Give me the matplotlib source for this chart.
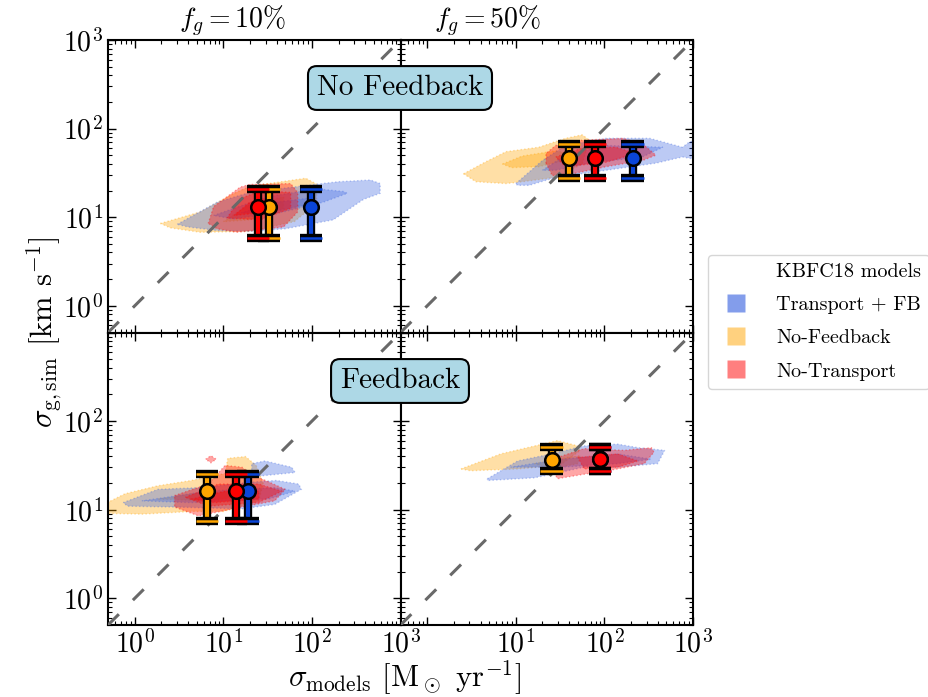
import numpy as np
import matplotlib.pyplot as plt
import matplotlib.patheffects as pe
from matplotlib.lines import Line2D
from matplotlib.ticker import NullFormatter

plt.rcParams['font.family'] = 'serif'
plt.rcParams['font.serif'] = ['cmr10']
plt.rcParams['mathtext.fontset'] = 'cm'
plt.rcParams['axes.formatter.use_mathtext'] = True

# model names / colours
models = ['Transport + FB', 'No-Feedback', 'No-Transport']
fill_cols = ['royalblue', 'orange', 'red']
dot_cols = ['#0a45d8', '#ffa500', '#ff0000']

# density contours (log10 sigma_models, log10 sigma_sim), outer -> inner
# f_g = 10%, no feedback
tl_blue = [
    [(0.48, 0.92), (0.93, 1.17), (1.30, 1.28), (1.87, 1.35), (2.29, 1.40), (2.66, 1.42), (2.77, 1.38),
     (2.77, 1.27), (2.58, 1.20), (2.24, 0.97), (1.70, 0.87), (1.30, 0.84), (0.93, 0.85), (0.60, 0.89)],
    [(0.89, 1.02), (1.49, 1.23), (2.06, 1.32), (2.36, 1.29), (2.40, 1.27), (2.13, 1.17), (1.68, 1.06), (1.11, 0.98)],
    [(1.20, 1.05), (1.60, 1.17), (2.00, 1.22), (1.90, 1.13), (1.50, 1.05)],
]
tl_orange = [
    [(0.29, 0.93), (0.74, 1.06), (1.12, 1.27), (1.30, 1.35), (1.93, 1.44), (2.06, 1.37), (2.05, 1.15),
     (1.80, 0.95), (1.30, 0.84), (0.74, 0.83), (0.40, 0.88)],
    [(1.00, 0.95), (1.27, 1.13), (1.68, 1.23), (1.68, 1.10), (1.30, 0.97)],
]
tl_red = [
    [(0.83, 0.93), (0.89, 1.12), (1.19, 1.34), (1.30, 1.37), (1.76, 1.38), (1.84, 1.28), (1.84, 1.06),
     (1.68, 0.89), (1.15, 0.83), (0.93, 0.87)],
    [(1.04, 0.99), (1.19, 1.21), (1.42, 1.30), (1.76, 1.28), (1.76, 1.10), (1.42, 0.97)],
    [(1.12, 1.02), (1.30, 1.17), (1.49, 1.21), (1.53, 1.06)],
]
# f_g = 50%, no feedback
tr_blue = [
    [(1.00, 1.38), (1.30, 1.64), (1.56, 1.81), (2.02, 1.89), (2.51, 1.89), (2.88, 1.79), (2.96, 1.85),
     (3.05, 1.87), (3.05, 1.65), (2.88, 1.68), (2.58, 1.61), (2.02, 1.53), (1.45, 1.45), (1.15, 1.36), (1.02, 1.36)],
    [(1.30, 1.53), (1.56, 1.70), (2.02, 1.81), (2.66, 1.79), (2.43, 1.68), (1.83, 1.61), (1.45, 1.53)],
]
tr_orange = [
    [(0.41, 1.49), (0.65, 1.62), (0.89, 1.74), (1.26, 1.79), (1.56, 1.89), (1.75, 1.93), (1.83, 1.87),
     (1.75, 1.60), (1.45, 1.45), (1.07, 1.40), (0.89, 1.38), (0.55, 1.40)],
    [(0.85, 1.60), (1.07, 1.69), (1.45, 1.75), (1.60, 1.72), (1.55, 1.64), (1.26, 1.57), (0.95, 1.56)],
]
tr_red = [
    [(1.34, 1.61), (1.34, 1.72), (1.45, 1.81), (1.75, 1.87), (2.21, 1.89), (2.43, 1.83), (2.58, 1.70),
     (2.43, 1.64), (2.02, 1.57), (1.64, 1.49), (1.41, 1.47)],
    [(1.45, 1.68), (1.75, 1.78), (2.13, 1.79), (2.36, 1.72), (2.02, 1.62), (1.56, 1.57)],
]
# f_g = 10%, feedback
bl_blue = [
    [(-0.13, 1.08), (0.26, 1.23), (0.75, 1.25), (1.30, 1.31), (1.60, 1.33), (1.85, 1.29), (1.88, 1.23),
     (1.58, 1.06), (1.21, 1.01), (0.45, 1.03), (-0.08, 1.04)],
    [(1.32, 1.45), (1.32, 1.52), (1.47, 1.55), (1.77, 1.48), (1.81, 1.42), (1.51, 1.39), (1.40, 1.38)],
    [(0.08, 1.10), (0.83, 1.21), (1.58, 1.25), (1.81, 1.21), (1.51, 1.12), (0.64, 1.08)],
]
bl_orange = [
    [(-0.35, 1.06), (-0.11, 1.18), (0.26, 1.27), (0.64, 1.33), (1.02, 1.41), (1.05, 1.58), (1.25, 1.60),
     (1.37, 1.50), (1.45, 1.30), (1.40, 1.10), (1.00, 0.98), (0.64, 0.98), (0.08, 0.95), (-0.35, 0.96)],
    [(0.26, 1.12), (0.64, 1.18), (1.21, 1.21), (1.28, 1.16), (0.83, 1.10)],
]
bl_red = [
    [(0.45, 1.16), (0.83, 1.29), (1.02, 1.50), (1.21, 1.48), (1.32, 1.40), (1.70, 1.23), (1.58, 1.10),
     (1.21, 1.03), (0.72, 0.93), (0.45, 1.03)],
    [(0.80, 1.57), (0.86, 1.61), (0.92, 1.57), (0.86, 1.53)],
    [(0.57, 1.14), (0.94, 1.29), (1.40, 1.29), (1.66, 1.21), (1.40, 1.08), (0.83, 1.04)],
    [(0.64, 1.12), (1.02, 1.21), (1.40, 1.21), (1.40, 1.12), (0.90, 1.08)],
]
# f_g = 50%, feedback
br_blue = [
    [(0.68, 1.35), (1.02, 1.55), (1.40, 1.63), (1.77, 1.72), (2.15, 1.74), (2.38, 1.70), (2.68, 1.67),
     (2.60, 1.52), (2.15, 1.48), (1.77, 1.48), (1.21, 1.36), (0.68, 1.33)],
    [(0.94, 1.48), (1.51, 1.57), (2.15, 1.63), (2.53, 1.57), (2.15, 1.52), (1.51, 1.48)],
]
br_orange = [
    [(0.38, 1.46), (0.83, 1.63), (1.47, 1.78), (1.70, 1.72), (1.73, 1.67), (1.50, 1.50), (1.02, 1.46), (0.49, 1.44)],
    [(1.21, 1.52), (1.58, 1.59), (1.73, 1.61), (1.70, 1.52), (1.40, 1.46)],
]
br_red = [
    [(1.40, 1.48), (1.47, 1.59), (1.77, 1.69), (2.22, 1.67), (2.53, 1.70), (2.56, 1.65), (2.45, 1.52),
     (2.15, 1.46), (1.77, 1.40), (1.47, 1.35)],
    [(1.70, 1.59), (2.15, 1.63), (2.38, 1.55), (2.15, 1.48), (1.77, 1.46)],
]

# median and 16/84 percentiles: [blue, orange, red]
tl_x = [98.6, 32.5, 24.8]
tl_y = [13.0, 13.0, 13.0]
tl_lo = [5.8, 5.8, 5.8]
tl_hi = [21.0, 21.0, 21.0]

tr_x = [208.0, 40.0, 78.7]
tr_y = [46.7, 46.7, 46.7]
tr_lo = [28.0, 28.0, 28.0]
tr_hi = [66.7, 66.7, 66.7]

bl_x = [18.8, 6.6, 13.8]
bl_y = [16.1, 16.1, 16.1]
bl_lo = [7.4, 7.4, 7.4]
bl_hi = [25.2, 25.2, 25.2]

br_x = [89.6, 25.3, 89.6]
br_y = [37.0, 36.4, 37.0]
br_lo = [27.5, 27.5, 27.5]
br_hi = [50.4, 50.4, 50.4]

fig, axs = plt.subplots(2, 2, figsize=(9.29, 6.97), dpi=100)
fig.subplots_adjust(left=0.1163, right=0.746, top=0.9426, bottom=0.1033, wspace=0, hspace=0)

panels = [
    (axs[0, 0], [tl_blue, tl_orange, tl_red], tl_x, tl_y, tl_lo, tl_hi),
    (axs[0, 1], [tr_blue, tr_orange, tr_red], tr_x, tr_y, tr_lo, tr_hi),
    (axs[1, 0], [bl_blue, bl_orange, bl_red], bl_x, bl_y, bl_lo, bl_hi),
    (axs[1, 1], [br_blue, br_orange, br_red], br_x, br_y, br_lo, br_hi),
]

outline = [pe.Stroke(linewidth=6, foreground='k'), pe.Normal()]

for ax, conts, xs, ys, los, his in panels:
    ax.set_xscale('log')
    ax.set_yscale('log')
    # draw order: orange, blue, red
    for k in [1, 0, 2]:
        for poly in conts[k]:
            p = np.array(poly)
            ax.fill(10**p[:, 0], 10**p[:, 1], facecolor=fill_cols[k], alpha=0.35,
                    edgecolor=fill_cols[k], linestyle=':', linewidth=1.0, zorder=2)
    # one-to-one
    ax.plot([0.5, 1000], [0.5, 1000], color='dimgray', lw=2.2, ls=(0, (5, 6.5)), zorder=3)
    for k in [0, 1, 2]:
        yerr = [[ys[k] - los[k]], [his[k] - ys[k]]]
        line, caps, bars = ax.errorbar([xs[k]], [ys[k]], yerr=yerr, fmt='o', color=dot_cols[k],
                                       mfc=dot_cols[k], mec='k', mew=1.8, ms=10.5,
                                       elinewidth=3, capsize=8, capthick=3, zorder=5)
        for c in caps:
            c.set_path_effects(outline)
        for b in bars:
            b.set_path_effects(outline)
    ax.set_xlim(0.5, 1000)
    ax.set_ylim(0.5, 1000)
    ax.tick_params(which='both', direction='in', top=True, right=True, labelsize=20)
    ax.tick_params(which='major', length=6, width=1.0)
    ax.tick_params(which='minor', length=3, width=0.8)
    for s in ax.spines.values():
        s.set_linewidth(1.5)
    ax.set_xticks([1, 10, 100, 1000])
    ax.set_yticks([1, 10, 100, 1000])
    ax.xaxis.set_minor_formatter(NullFormatter())
    ax.yaxis.set_minor_formatter(NullFormatter())

dec = ['$10^0$', '$10^1$', '$10^2$', '$10^3$']
axs[0, 0].set_yticklabels(dec)
axs[1, 0].set_yticklabels(dec[:3] + [''])
axs[1, 0].set_xticklabels(dec)
axs[1, 1].set_xticklabels([''] + dec[1:])
axs[0, 0].tick_params(labelbottom=False)
axs[0, 1].tick_params(labelbottom=False, labelleft=False)
axs[1, 1].tick_params(labelleft=False)

fig.text(233 / 929, 1 - 21 / 697, r'$f_g = 10\%$', ha='center', va='center', fontsize=20)
fig.text(488 / 929, 1 - 21 / 697, r'$f_g = 50\%$', ha='center', va='center', fontsize=20)

box = dict(boxstyle='round,pad=0.3', facecolor='lightblue', edgecolor='k', linewidth=1.5)
fig.text(400 / 929, 1 - 88 / 697, 'No Feedback', ha='center', va='center', fontsize=21, bbox=box, zorder=10)
fig.text(400 / 929, 1 - 381 / 697, 'Feedback', ha='center', va='center', fontsize=21, bbox=box, zorder=10)

fig.text(405 / 929, 1 - 678 / 697, r'$\sigma_{\rm models}$ [M$_\odot$ yr$^{-1}$]',
         ha='center', va='center', fontsize=22)
fig.text(45 / 929, 1 - 332 / 697, r'$\sigma_{\rm g,sim}$ [km s$^{-1}$]',
         ha='center', va='center', rotation=90, fontsize=22)

handles = [Line2D([], [], ls='none', marker='s', ms=0, label='KBFC18 models')]
for k in range(3):
    handles.append(Line2D([], [], ls='none', marker='s', ms=12.5, mfc=fill_cols[k],
                          mec='none', alpha=0.65 if k == 0 else 0.5, label=models[k]))
fig.legend(handles=handles, loc='center left', bbox_to_anchor=(708 / 929, 0.5385),
           borderaxespad=0, fontsize=14.5, handlelength=2.0, handletextpad=1.0, labelspacing=0.75)

fig.savefig('out.png', dpi=100)
